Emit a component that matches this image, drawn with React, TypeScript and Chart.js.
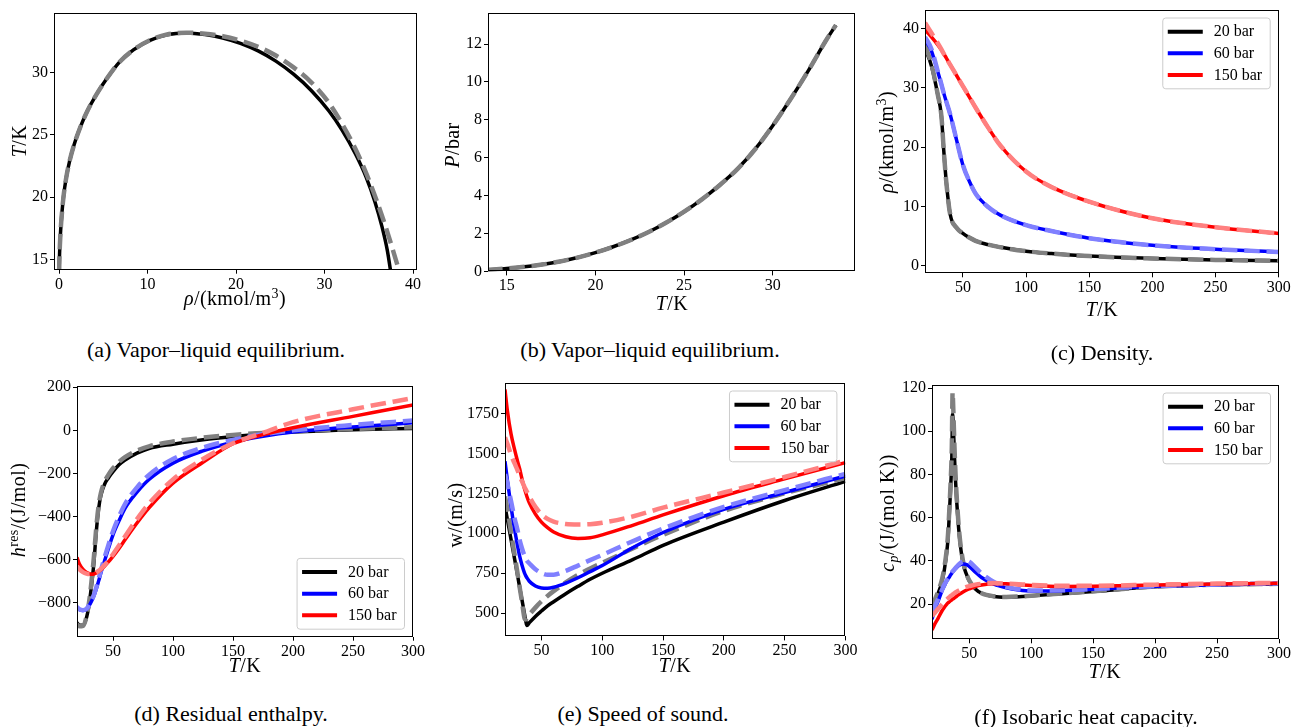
import React, { useEffect, useRef } from 'react';
import { Chart, registerables } from 'chart.js';

Chart.register(...registerables);

const FONT = '"Liberation Serif", "Times New Roman", serif';

const BLACK = '#000000';
const BLUE = '#0000ff';
const RED = '#ff0000';
const GRAY = '#808080';
const LBLUE = '#8080ff';
const LRED = '#ff8080';

// ---------- (a) vapor-liquid equilibrium: T over rho ----------
const vleRhoModel = [0.01, 0.04, 0.1, 0.18, 0.3, 0.5, 0.8, 1.2, 1.7, 2.4, 3.2, 4.2, 5.4, 6.8, 8.4, 10.2, 12.2, 14.4, 16.5, 18.5, 20.5, 22.5, 24.5, 26.5, 28.5, 30.5, 32.0, 33.5, 34.7, 35.7, 36.5, 37.1, 37.5];
const vleTModel = [14.0, 15.0, 16.2, 17.3, 18.5, 20.0, 21.5, 22.9, 24.2, 25.6, 26.9, 28.2, 29.5, 30.8, 31.8, 32.55, 33.02, 33.16, 33.03, 32.76, 32.33, 31.72, 30.9, 29.85, 28.55, 26.9, 25.35, 23.45, 21.6, 19.6, 17.6, 15.7, 13.9];
const vleRhoRef = [0.01, 0.04, 0.1, 0.18, 0.3, 0.5, 0.8, 1.2, 1.7, 2.4, 3.2, 4.2, 5.4, 6.8, 8.4, 10.2, 12.2, 14.4, 16.5, 18.5, 20.5, 22.5, 24.5, 26.5, 28.5, 30.5, 32.0, 33.5, 34.8, 35.9, 36.8, 37.6, 38.3, 38.8];
const vleTRef = [14.0, 15.0, 16.2, 17.3, 18.5, 20.0, 21.5, 22.9, 24.2, 25.6, 26.9, 28.2, 29.5, 30.8, 31.8, 32.55, 33.04, 33.18, 33.1, 32.9, 32.55, 32.05, 31.35, 30.4, 29.2, 27.55, 25.85, 23.85, 21.75, 19.7, 17.85, 16.05, 14.4, 13.2];

// ---------- (b) vapor pressure ----------
const psatT = [13.9, 15, 16, 17, 18, 19, 20, 21, 22, 23, 24, 25, 26, 27, 28, 29, 30, 31, 32, 33, 33.55];
const psatModel = [0.08, 0.15, 0.24, 0.36, 0.52, 0.73, 0.99, 1.3, 1.66, 2.08, 2.58, 3.15, 3.8, 4.55, 5.4, 6.45, 7.7, 9.1, 10.6, 12.2, 13.0];
const psatRef = [0.08, 0.15, 0.24, 0.36, 0.52, 0.73, 0.99, 1.3, 1.66, 2.08, 2.58, 3.15, 3.8, 4.55, 5.4, 6.45, 7.7, 9.1, 10.6, 12.2, 13.0];

// ---------- (c) density ----------
const tC = [20, 25, 30, 33, 35, 37, 40, 45, 50, 55, 60, 70, 80, 100, 120, 150, 200, 250, 300];
const rho20Model = [36.7, 33.8, 29.0, 25.2, 19.0, 13.8, 8.6, 6.4, 5.45, 4.75, 4.2, 3.55, 3.1, 2.45, 2.05, 1.62, 1.22, 0.98, 0.82];
const rho20Ref = [37.2, 34.1, 29.0, 25.2, 19.0, 13.8, 8.6, 6.4, 5.45, 4.75, 4.2, 3.55, 3.1, 2.45, 2.05, 1.62, 1.22, 0.98, 0.82];
const rho60Model = [38.2, 36.3, 32.8, 30.6, 29.0, 27.6, 25.5, 21.2, 17.0, 14.3, 12.2, 9.9, 8.5, 6.85, 5.85, 4.65, 3.45, 2.78, 2.32];
const rho60Ref = [38.6, 36.6, 32.9, 30.6, 29.0, 27.6, 25.5, 21.2, 17.0, 14.3, 12.2, 9.9, 8.5, 6.85, 5.85, 4.65, 3.45, 2.78, 2.32];
const rho150Model = [39.8, 38.6, 37.3, 36.4, 35.7, 35.0, 33.9, 32.1, 30.3, 28.5, 26.7, 23.3, 20.2, 15.9, 13.3, 10.8, 8.0, 6.5, 5.45];
const rho150Ref = [41.0, 39.3, 37.6, 36.5, 35.7, 35.0, 33.9, 32.1, 30.3, 28.5, 26.7, 23.3, 20.2, 15.9, 13.3, 10.8, 8.0, 6.5, 5.45];

// ---------- (d) residual enthalpy ----------
const tD = [20, 22, 25, 28, 30, 32, 34, 36, 38, 40, 43, 46, 50, 55, 60, 70, 80, 100, 125, 150, 175, 200, 250, 300];
const h20Model = [-893, -905, -905, -868, -812, -725, -620, -475, -365, -300, -250, -222, -192, -160, -138, -106, -84, -64, -44, -29, -17, -8, 3, 9];
const h20Ref = [-900, -910, -908, -862, -800, -705, -592, -455, -350, -288, -238, -208, -176, -146, -124, -94, -74, -52, -34, -21, -12, -4, 7, 15];
const h60Model = [-825, -832, -836, -830, -815, -795, -770, -738, -700, -660, -605, -552, -485, -420, -362, -287, -228, -152, -95, -55, -28, -8, 16, 35];
const h60Ref = [-820, -830, -835, -828, -812, -790, -765, -730, -690, -648, -590, -535, -468, -400, -342, -265, -207, -133, -80, -44, -18, 0, 25, 46];
const h150Model = [-590, -620, -645, -660, -665, -668, -667, -662, -655, -647, -630, -612, -585, -548, -508, -430, -360, -245, -148, -62, -20, 12, 65, 118];
const h150Ref = [-630, -645, -658, -665, -667, -667, -665, -660, -652, -643, -625, -605, -575, -535, -493, -412, -340, -228, -133, -60, -12, 38, 98, 150];

// ---------- (e) speed of sound ----------
const tE = [20, 22, 25, 28, 30, 32, 34, 36, 37, 38, 40, 45, 50, 55, 60, 70, 80, 90, 100, 125, 150, 200, 250, 300];
const w20Model = [1170, 1085, 960, 835, 750, 665, 582, 498, 455, 423, 440, 480, 514, 546, 572, 622, 668, 712, 750, 835, 925, 1070, 1205, 1325];
const w20Ref = [1230, 1150, 1005, 860, 765, 665, 570, 470, 460, 466, 490, 535, 574, 608, 638, 693, 740, 780, 815, 905, 990, 1140, 1250, 1345];
const w60Model = [1450, 1330, 1165, 1020, 935, 858, 800, 752, 735, 722, 700, 670, 658, 656, 662, 688, 722, 760, 798, 910, 1005, 1150, 1255, 1358];
const w60Ref = [1370, 1310, 1200, 1090, 1030, 960, 905, 860, 842, 828, 812, 775, 752, 741, 741, 765, 798, 832, 865, 950, 1030, 1165, 1270, 1372];
const w150Model = [1900, 1765, 1620, 1520, 1460, 1405, 1340, 1280, 1255, 1230, 1190, 1120, 1070, 1035, 1008, 978, 968, 972, 990, 1050, 1115, 1235, 1340, 1442];
const w150Ref = [1600, 1560, 1490, 1435, 1400, 1360, 1325, 1290, 1275, 1260, 1230, 1165, 1120, 1090, 1073, 1058, 1055, 1057, 1066, 1105, 1160, 1255, 1352, 1455];

// ---------- (f) isobaric heat capacity ----------
const tF = [20, 22, 25, 28, 30, 32, 33, 34, 35, 36, 36.6, 37.2, 38, 39, 40, 42, 45, 48, 50, 55, 60, 70, 80, 90, 100, 125, 150, 200, 250, 300];
const cp20Model = [17.5, 20.5, 25, 30.3, 36, 44.5, 51, 62, 73, 88, 108, 103, 90, 77, 67, 52, 39, 33.5, 30.8, 27, 25, 23.5, 23.2, 23.4, 23.8, 24.8, 25.8, 28.0, 28.9, 29.3];
const cp20Ref = [18.5, 21.5, 26, 31.3, 37, 46, 53, 64, 76, 93, 118, 110, 95, 80, 69, 53, 40, 33.8, 31, 27, 25, 23.6, 23.3, 23.5, 23.9, 24.9, 25.9, 28.1, 29, 29.4];
const cp60Model = [13, 17, 21.5, 26, 28.5, 30.8, 31.7, 32.5, 33.5, 34.3, 34.8, 35.2, 35.8, 36.4, 37, 38, 38.6, 38.3, 37.5, 34.8, 32.3, 29.2, 27.5, 26.5, 26, 26.2, 26.9, 28.2, 29, 29.5];
const cp60Ref = [16, 18.5, 22.5, 26.5, 29, 31, 32, 32.9, 33.8, 34.6, 35.1, 35.5, 36, 36.7, 37.4, 38.6, 39.6, 40, 39.6, 37, 34.2, 30.2, 28, 26.9, 26.3, 26.4, 27, 28.3, 29.1, 29.6];
const cp150Model = [8, 10.5, 13.5, 16.8, 18.5, 20, 20.6, 21.1, 21.6, 22, 22.3, 22.5, 22.8, 23.2, 23.7, 24.5, 25.6, 26.5, 27, 28.1, 28.8, 29.4, 29.4, 29, 28.6, 28.1, 28.2, 28.8, 29.3, 29.6];
const cp150Ref = [14.5, 15.8, 17.8, 19.8, 21, 22.2, 22.7, 23.2, 23.7, 24.1, 24.4, 24.6, 25, 25.4, 25.8, 26.4, 27.3, 28, 28.3, 29, 29.4, 29.7, 29.5, 29.2, 28.9, 28.5, 28.5, 29, 29.5, 29.8];

// ---------- labels & ticks ----------
const pressureLabels = ['20 bar', '60 bar', '150 bar'];
const tempTicks = [50, 100, 150, 200, 250, 300];
const aXTicks = [0, 10, 20, 30, 40];
const aYTicks = [15, 20, 25, 30];
const bXTicks = [15, 20, 25, 30];
const bYTicks = [0, 2, 4, 6, 8, 10, 12];
const cYTicks = [0, 10, 20, 30, 40];
const dYTicks = [-800, -600, -400, -200, 0, 200];
const eYTicks = [500, 750, 1000, 1250, 1500, 1750];
const fYTicks = [20, 40, 60, 80, 100, 120];
const captions = [
  '(a) Vapor\u2013liquid equilibrium.',
  '(b) Vapor\u2013liquid equilibrium.',
  '(c) Density.',
  '(d) Residual enthalpy.',
  '(e) Speed of sound.',
  '(f) Isobaric heat capacity.',
];

const PL = 50, PT = 12, PR = 14, PB = 28;
const SOLID_W = 3.5;
const DASH_W = 4.5;
const DASH = [15.5, 6.8];
const TICK_SIZE = 16;
const TITLE_SIZE = 20;

type Line = { xs: number[]; ys: number[]; color: string; dashed: boolean };
type Spec = {
  area: { l: number; t: number; r: number; b: number };
  x: [number, number];
  y: [number, number];
  xTicks: number[];
  yTicks: number[];
  lines: Line[];
  legend?: 'tr' | 'br';
};

const fmt = (v: number) => (v < 0 ? '\u2212' + String(-v) : String(v));

function makeFrame() {
  return {
    id: 'frame',
    afterDatasetsDraw(chart: any) {
      const { ctx, chartArea: a } = chart;
      ctx.save();
      ctx.strokeStyle = '#000';
      ctx.lineWidth = 1;
      const l = Math.round(a.left) + 0.5;
      const t = Math.round(a.top) + 0.5;
      const r = Math.round(a.right) - 0.5;
      const b = Math.round(a.bottom) - 0.5;
      ctx.strokeRect(l, t, r - l, b - t);
      ctx.restore();
    },
  };
}

function makeLegend(corner: 'tr' | 'br' | undefined) {
  return {
    id: 'boxLegend',
    afterDraw(chart: any) {
      if (!corner) return;
      const { ctx, chartArea: a } = chart;
      const items = [
        { label: pressureLabels[0], color: BLACK },
        { label: pressureLabels[1], color: BLUE },
        { label: pressureLabels[2], color: RED },
      ];
      ctx.save();
      ctx.font = `16px ${FONT}`;
      const tw = Math.max(...items.map((it) => ctx.measureText(it.label).width));
      const rowH = 21.6;
      const w = 5 + 35 + 11 + tw + 8;
      const h = items.length * rowH + 6;
      const x = a.right - 8.5 - w;
      const y = corner === 'br' ? a.bottom - 7.5 - h : a.top + 8;
      const rad = 3;
      ctx.beginPath();
      ctx.moveTo(x + rad, y);
      ctx.lineTo(x + w - rad, y);
      ctx.quadraticCurveTo(x + w, y, x + w, y + rad);
      ctx.lineTo(x + w, y + h - rad);
      ctx.quadraticCurveTo(x + w, y + h, x + w - rad, y + h);
      ctx.lineTo(x + rad, y + h);
      ctx.quadraticCurveTo(x, y + h, x, y + h - rad);
      ctx.lineTo(x, y + rad);
      ctx.quadraticCurveTo(x, y, x + rad, y);
      ctx.closePath();
      ctx.fillStyle = 'rgba(255,255,255,0.8)';
      ctx.fill();
      ctx.strokeStyle = '#cccccc';
      ctx.lineWidth = 1;
      ctx.stroke();
      items.forEach((it, i) => {
        const ly = y + 13.7 + i * rowH;
        ctx.beginPath();
        ctx.moveTo(x + 5, ly);
        ctx.lineTo(x + 40, ly);
        ctx.strokeStyle = it.color;
        ctx.lineWidth = 4;
        ctx.stroke();
        ctx.fillStyle = '#000';
        ctx.textBaseline = 'middle';
        ctx.textAlign = 'left';
        ctx.fillText(it.label, x + 51, ly + 0.5);
      });
      ctx.restore();
    },
  };
}

function buildDatasets(lines: Line[]) {
  const n = lines.length;
  return lines.map((ln, i) => ({
    data: ln.xs.map((x, k) => ({ x, y: ln.ys[k] })),
    showLine: true,
    borderColor: ln.color,
    backgroundColor: ln.color,
    borderWidth: ln.dashed ? DASH_W : SOLID_W,
    borderDash: ln.dashed ? DASH : [],
    borderCapStyle: 'butt',
    borderJoinStyle: 'round',
    pointRadius: 0,
    pointHoverRadius: 0,
    fill: false,
    clip: 0,
    order: n - i,
    cubicInterpolationMode: 'monotone',
  }));
}

function axis(min: number, max: number, ticks: number[], isX: boolean) {
  return {
    type: 'linear',
    min,
    max,
    afterBuildTicks: (s: any) => {
      s.ticks = ticks.map((v) => ({ value: v }));
    },
    afterFit: (s: any) => {
      if (isX) s.height = PB;
      else s.width = PL;
    },
    ticks: {
      autoSkip: false,
      maxRotation: 0,
      minRotation: 0,
      padding: isX ? 1 : 2,
      color: '#000',
      font: { family: FONT, size: TICK_SIZE },
      callback: (v: any) => fmt(Number(v)),
    },
    grid: {
      display: true,
      drawOnChartArea: false,
      drawTicks: true,
      tickLength: 4,
      tickColor: '#000',
      tickWidth: 1,
    },
    border: { display: false },
  };
}

function Panel({ spec }: { spec: Spec }) {
  const ref = useRef<HTMLCanvasElement>(null);
  const { area } = spec;
  const cw = Math.round(area.r - area.l + PL + PR);
  const ch = Math.round(area.b - area.t + PT + PB);
  const left = area.l - PL;
  const top = area.t - PT;
  useEffect(() => {
    if (!ref.current) return;
    const chart = new Chart(ref.current, {
      type: 'scatter',
      data: { datasets: buildDatasets(spec.lines) as any },
      options: {
        responsive: false,
        animation: false,
        devicePixelRatio: 1,
        events: [],
        layout: {
          padding: {
            left: 0,
            top: PT,
            right: cw - (area.r - area.l) - PL,
            bottom: ch - (area.b - area.t) - PT - PB,
          },
        },
        plugins: { legend: { display: false }, tooltip: { enabled: false } },
        scales: {
          x: axis(spec.x[0], spec.x[1], spec.xTicks, true) as any,
          y: axis(spec.y[0], spec.y[1], spec.yTicks, false) as any,
        },
      },
      plugins: [makeFrame(), makeLegend(spec.legend)],
    });
    return () => chart.destroy();
  }, []);
  return (
    <canvas
      ref={ref}
      width={cw}
      height={ch}
      style={{ position: 'absolute', left, top, width: cw, height: ch }}
    />
  );
}

function Txt({ x, y, rot, size, spacing, children }: any) {
  return (
    <div
      style={{
        position: 'absolute',
        left: x,
        top: y,
        transform: `translate(-50%, -50%)${rot ? ' rotate(-90deg)' : ''}`,
        whiteSpace: 'nowrap',
        fontFamily: FONT,
        fontSize: size,
        letterSpacing: spacing || 0,
        lineHeight: 1,
        color: '#000',
      }}
    >
      {children}
    </div>
  );
}

const sup: React.CSSProperties = { fontSize: '0.7em', verticalAlign: '0.5em', lineHeight: 0 };
const sub: React.CSSProperties = { fontSize: '0.7em', verticalAlign: '-0.3em', lineHeight: 0 };

const trio = (xs: number[], m: number[][], r: number[][]): Line[] => [
  { xs, ys: m[0], color: BLACK, dashed: false },
  { xs, ys: r[0], color: GRAY, dashed: true },
  { xs, ys: m[1], color: BLUE, dashed: false },
  { xs, ys: r[1], color: LBLUE, dashed: true },
  { xs, ys: m[2], color: RED, dashed: false },
  { xs, ys: r[2], color: LRED, dashed: true },
];

const specs: Spec[] = [
  {
    area: { l: 54.3, t: 13.3, r: 417.3, b: 270 },
    x: [-0.57, 40.45],
    y: [14.17, 34.76],
    xTicks: aXTicks,
    yTicks: aYTicks,
    lines: [
      { xs: vleRhoModel, ys: vleTModel, color: BLACK, dashed: false },
      { xs: vleRhoRef, ys: vleTRef, color: GRAY, dashed: true },
    ],
  },
  {
    area: { l: 488.3, t: 13.3, r: 855.7, b: 271.7 },
    x: [13.95, 34.65],
    y: [0, 13.64],
    xTicks: bXTicks,
    yTicks: bYTicks,
    lines: [
      { xs: psatT, ys: psatModel, color: BLACK, dashed: false },
      { xs: psatT, ys: psatRef, color: GRAY, dashed: true },
    ],
  },
  {
    area: { l: 925.3, t: 10, r: 1279, b: 273.3 },
    x: [20, 300],
    y: [-1.28, 43.15],
    xTicks: tempTicks,
    yTicks: cYTicks,
    legend: 'tr',
    lines: trio(tC, [rho20Model, rho60Model, rho150Model], [rho20Ref, rho60Ref, rho150Ref]),
  },
  {
    area: { l: 76.7, t: 386, r: 412.7, b: 636.7 },
    x: [20, 300],
    y: [-958, 206],
    xTicks: tempTicks,
    yTicks: dYTicks,
    legend: 'br',
    lines: trio(tD, [h20Model, h60Model, h150Model], [h20Ref, h60Ref, h150Ref]),
  },
  {
    area: { l: 505.3, t: 383.3, r: 845.7, b: 636.7 },
    x: [20, 300],
    y: [355, 1940],
    xTicks: tempTicks,
    yTicks: eYTicks,
    legend: 'tr',
    lines: trio(tE, [w20Model, w60Model, w150Model], [w20Ref, w60Ref, w150Ref]),
  },
  {
    area: { l: 932, t: 385, r: 1279, b: 639.3 },
    x: [20, 300],
    y: [3.7, 121.4],
    xTicks: tempTicks,
    yTicks: fYTicks,
    legend: 'tr',
    lines: trio(tF, [cp20Model, cp60Model, cp150Model], [cp20Ref, cp60Ref, cp150Ref]),
  },
];

export default function App() {
  const TS = TITLE_SIZE;
  const SP = 0.4;
  const TK = (
    <span>
      <i>T</i>/K
    </span>
  );
  return (
    <div
      style={{
        position: 'absolute',
        left: 0,
        top: 0,
        width: 1293,
        height: 727,
        overflow: 'hidden',
        background: '#fff',
      }}
    >
      {specs.map((s, i) => (
        <Panel key={i} spec={s} />
      ))}

      {/* axis titles */}
      <Txt x={235} y={298} size={TS} spacing={SP}>
        <span>
          <i>ρ</i>/(kmol/m<span style={sup}>3</span>)
        </span>
      </Txt>
      <Txt x={19} y={141} size={TS} spacing={SP} rot>
        {TK}
      </Txt>

      <Txt x={672} y={303} size={TS} spacing={SP}>
        {TK}
      </Txt>
      <Txt x={452} y={145} size={TS} spacing={SP} rot>
        <span>
          <i>P</i>/bar
        </span>
      </Txt>

      <Txt x={1102} y={309} size={TS} spacing={SP}>
        {TK}
      </Txt>
      <Txt x={886} y={142} size={TS} spacing={SP} rot>
        <span>
          <i>ρ</i>/(kmol/m<span style={sup}>3</span>)
        </span>
      </Txt>

      <Txt x={245} y={665} size={TS} spacing={SP}>
        {TK}
      </Txt>
      <Txt x={18} y={510} size={TS} spacing={SP} rot>
        <span>
          <i>h</i>
          <span style={sup}>res</span>/(J/mol)
        </span>
      </Txt>

      <Txt x={675} y={665} size={TS} spacing={SP}>
        {TK}
      </Txt>
      <Txt x={455} y={515} size={TS} spacing={SP} rot>
        <span>w/(m/s)</span>
      </Txt>

      <Txt x={1105} y={671} size={TS} spacing={SP}>
        {TK}
      </Txt>
      <Txt x={887} y={513} size={TS} spacing={SP} rot>
        <span>
          <i>c</i>
          <span style={sub}>
            <i>p</i>
          </span>
          /(J/(mol K))
        </span>
      </Txt>

      {/* captions */}
      <Txt x={216} y={350} size={22}>
        {captions[0]}
      </Txt>
      <Txt x={650} y={350} size={22}>
        {captions[1]}
      </Txt>
      <Txt x={1102} y={353} size={22}>
        {captions[2]}
      </Txt>
      <Txt x={231} y={714} size={22}>
        {captions[3]}
      </Txt>
      <Txt x={643} y={714} size={22}>
        {captions[4]}
      </Txt>
      <Txt x={1086} y={717} size={22}>
        {captions[5]}
      </Txt>
    </div>
  );
}
